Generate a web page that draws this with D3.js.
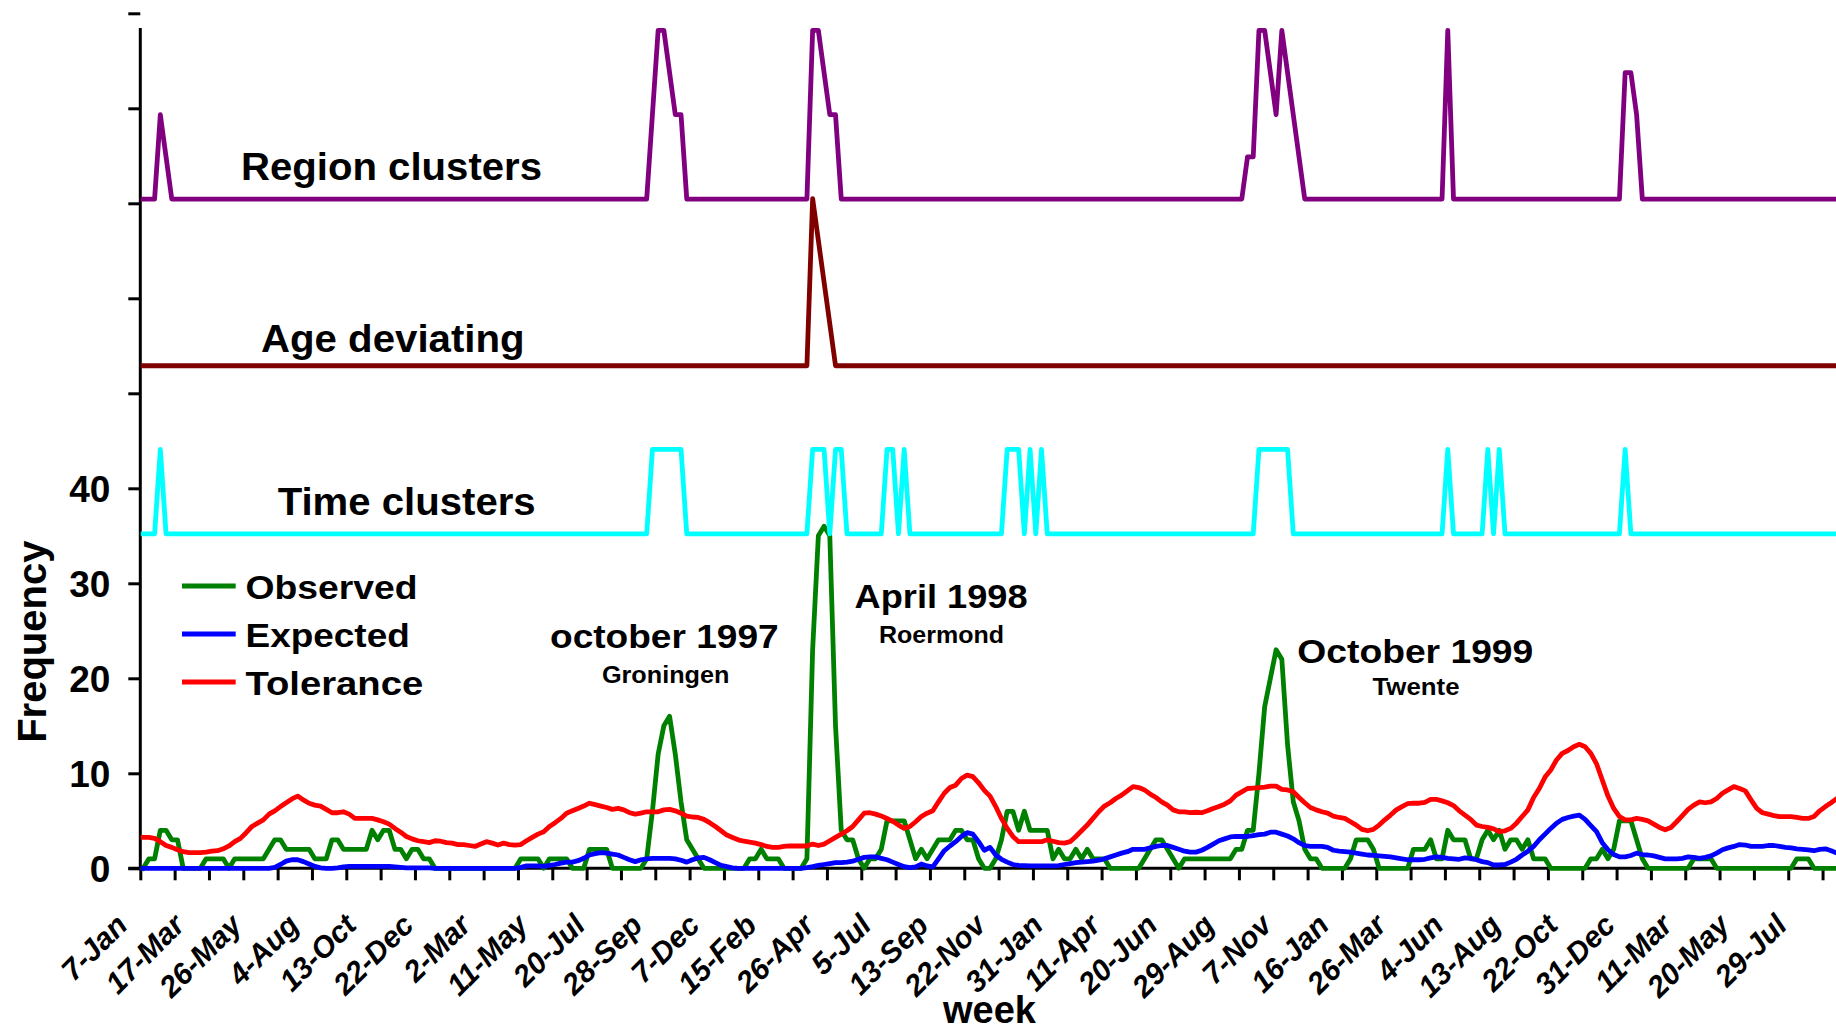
<!DOCTYPE html>
<html><head><meta charset="utf-8">
<script src="https://cdn.jsdelivr.net/npm/d3@7"></script>
<style>
html,body{margin:0;padding:0;background:#fff;overflow:hidden}
svg{display:block}
text{font-family:"Liberation Sans",Arial,Helvetica,sans-serif;font-weight:bold;fill:#000}
</style></head><body>
<svg id="chart" width="1836" height="1032"></svg>
<script>
// ---------------- DATA ----------------
// weekly categories starting 7-Jan-1996; a label every 10 weeks
const weekLabels = ["7-Jan","17-Mar","26-May","4-Aug","13-Oct","22-Dec","2-Mar","11-May","20-Jul","28-Sep",
  "7-Dec","15-Feb","26-Apr","5-Jul","13-Sep","22-Nov","31-Jan","11-Apr","20-Jun","29-Aug",
  "7-Nov","16-Jan","26-Mar","4-Jun","13-Aug","22-Oct","31-Dec","11-Mar","20-May","29-Jul"];

const observed = [
  0,1,1,4,4,3,3,0,0,0,  0,1,1,1,1,0,1,1,1,1,  1,1,2,3,3,2,2,2,2,2,  1,1,1,3,3,2,2,2,2,2,
  4,3,4,4,2,2,1,2,2,1,  1,0,0,0,0,0,0,0,0,0,  0,0,0,0,0,0,1,1,1,1,  0,1,1,1,1,0,0,0,2,2,
  2,2,0,0,0,0,0,0,1,6,  12,15,16,12,7,3,2,1,0,0,  0,0,0,0,0,0,1,1,2,1,  1,1,0,0,0,0,1,23,35,36,
  35,15,4,3,3,1,0,1,1,2,  5,5,5,5,3,1,2,1,2,3,  3,3,4,4,3,3,1,0,0,1,  3,6,6,4,6,4,4,4,4,1,
  2,1,1,2,1,2,1,1,1,0,  0,0,0,0,0,1,2,3,3,2,  1,0,1,1,1,1,1,1,1,1,  1,2,2,4,4,10,17,20,23,22,
  13,7,5,2,1,1,0,0,0,0,  0,1,3,3,3,2,0,0,0,0,  0,0,2,2,2,3,1,1,4,3,  3,3,1,1,3,4,3,4,2,3,
  3,2,3,1,1,1,0,0,0,0,  0,0,0,1,1,2,1,2,5,5,  5,3,1,0,0,0,0,0,0,0,  0,1,1,1,1,0,0,0,0,0,
  0,0,0,0,0,0,0,0,0,1,  1,1,0,0,0,0,0];

const expected = [
  0,0,0,0,0,0,0,0,0,0,  0,0,0,0,0,0,0,0,0,0,  0,0,0,0.1,0.4,0.75,0.9,0.9,0.7,0.45,
  0.2,0.05,0,0,0.05,0.15,0.2,0.2,0.2,0.2,  0.2,0.2,0.2,0.2,0.15,0.1,0.05,0.05,0.05,0.05,
  0.05,0,0,0,0,0,0,0,0,0,  0,0,0,0,0,0,0.1,0.25,0.25,0.25,  0.2,0.3,0.4,0.55,0.65,0.65,0.8,1.05,1.4,1.55,
  1.65,1.6,1.5,1.4,1.15,0.9,0.7,0.9,1.0,1.05,  1.05,1.05,1.05,1.0,0.85,0.65,0.9,1.1,1.15,0.9,
  0.6,0.3,0.17,0.05,0,0,0,0,0,0,  0,0,0,0,0,0,0.07,0.17,0.3,0.4,  0.5,0.6,0.6,0.65,0.75,0.95,1.15,1.2,1.2,1.05,
  0.9,0.65,0.4,0.17,0.07,0.15,0.45,0.25,0.15,1.0,  1.85,2.35,2.8,3.35,3.75,3.6,2.8,1.9,2.2,1.4,
  0.95,0.65,0.4,0.3,0.28,0.25,0.25,0.25,0.25,0.25,  0.28,0.4,0.5,0.6,0.65,0.7,0.75,0.85,1.0,1.2,
  1.4,1.6,1.75,2.0,2.0,2.0,2.15,2.3,2.4,2.4,  2.2,2.0,1.8,1.7,1.7,1.9,2.2,2.55,2.9,3.1,
  3.3,3.35,3.35,3.35,3.45,3.55,3.6,3.8,3.8,3.6,  3.4,3.1,2.7,2.4,2.3,2.3,2.3,2.2,1.9,1.8,
  1.75,1.7,1.6,1.5,1.4,1.35,1.3,1.25,1.2,1.1,  1.0,0.9,0.9,0.9,0.95,1.1,1.2,1.15,1.05,1.0,
  0.95,1.1,1.05,0.9,0.7,0.6,0.35,0.35,0.4,0.65,  0.95,1.4,1.8,2.3,3.0,3.6,4.2,4.75,5.15,5.35,
  5.5,5.6,5.15,4.5,3.85,2.7,1.95,1.45,1.2,1.2,  1.35,1.6,1.45,1.4,1.3,1.15,1.0,1.0,1.0,1.05,
  1.2,1.15,1.05,1.15,1.3,1.6,1.95,2.15,2.3,2.5,  2.45,2.3,2.3,2.3,2.4,2.4,2.3,2.2,2.15,2.05,
  2.0,1.95,1.85,2.0,2.05,1.85,1.6];

const tolerance = [
  3.25,3.25,3.15,2.8,2.4,2.2,1.95,1.75,1.65,1.65,  1.65,1.7,1.8,1.85,2.05,2.35,2.8,3.15,3.75,4.4,
  4.75,5.1,5.7,6.05,6.5,6.9,7.3,7.6,7.2,6.85,  6.65,6.55,6.2,5.85,5.85,5.95,5.7,5.25,5.25,5.25,
  5.25,5.1,4.9,4.65,4.2,3.8,3.35,3.1,2.9,2.8,  2.7,2.9,2.85,2.7,2.65,2.5,2.5,2.4,2.3,2.55,
  2.8,2.65,2.45,2.65,2.5,2.45,2.5,2.9,3.25,3.6,  3.85,4.4,4.8,5.25,5.8,6.05,6.3,6.55,6.85,6.7,
  6.55,6.4,6.2,6.3,6.15,5.85,5.7,5.8,5.95,5.95,  5.95,6.15,6.2,6.05,5.8,5.5,5.4,5.35,5.15,4.8,
  4.4,3.95,3.5,3.25,3.0,2.85,2.75,2.65,2.5,2.3,  2.2,2.2,2.3,2.35,2.35,2.35,2.35,2.55,2.4,2.55,
  2.9,3.25,3.6,3.95,4.4,5.1,5.8,5.85,5.7,5.5,  5.25,4.95,4.55,4.2,4.4,4.9,5.45,5.8,6.05,7.0,
  7.9,8.5,8.75,9.45,9.8,9.65,9.0,8.2,7.6,6.5,  5.25,4.2,3.35,2.8,2.8,2.8,2.8,2.8,3.0,2.85,
  2.7,2.65,2.8,3.35,3.95,4.55,5.25,5.95,6.55,6.9,  7.35,7.7,8.15,8.6,8.5,8.25,7.8,7.45,7.0,6.65,
  6.15,5.95,5.95,5.85,5.9,5.85,6.05,6.3,6.5,6.75,  7.1,7.7,8.05,8.4,8.45,8.5,8.55,8.65,8.65,8.3,
  8.25,8.05,7.45,6.9,6.4,6.15,5.95,5.8,5.5,5.35,  5.25,4.9,4.55,4.1,3.95,4.1,4.55,5.1,5.6,6.15,
  6.5,6.8,6.85,6.85,6.95,7.25,7.25,7.1,6.9,6.6,  6.05,5.6,5.15,4.55,4.4,4.3,4.15,3.85,3.95,4.2,
  4.75,5.45,6.15,7.45,8.4,9.6,10.35,11.4,12.1,12.4,  12.8,13.05,12.8,12.1,11.0,9.3,7.6,6.3,5.45,5.1,
  5.1,5.25,5.15,5.0,4.65,4.3,4.05,4.3,4.9,5.55,  6.2,6.65,7.0,6.9,7.0,7.35,7.9,8.25,8.6,8.4,
  8.15,7.2,6.3,5.85,5.7,5.55,5.45,5.45,5.45,5.35,  5.25,5.25,5.45,6.05,6.5,6.9,7.35];

// weeks flagged by the time-cluster detector (flag = 1)
const timeClusterWeeks = [3,89,90,91,92,93,94,117,118,119,121,122,130,131,133,
  151,152,153,155,157,195,196,197,198,199,200,228,235,237,259];
// [week, number of region clusters]
const regionClusters = [[3,2],[4,1],[89,2],[90,4],[91,4],[92,3],[93,2],[94,2],
  [117,4],[118,4],[119,3],[120,2],[121,2],[193,1],[194,1],[195,4],[196,4],[197,3],[198,2],
  [199,4],[200,3],[201,2],[202,1],[228,4],[259,3],[260,3],[261,2]];
// [week, age-deviation level]
const ageDeviating = [[117,4],[118,3],[119,2],[120,1]];

const yTicks = [0,10,20,30,40,50,60,70,80,90];
const yLabelTicks = [0,10,20,30,40];

const seriesNames = ["Observed","Expected","Tolerance"];
const seriesColors = ["#008000","#0000FF","#FF0000"];

// ---------------- CHART ----------------
const svg = d3.select("#chart");
const nWeeks = observed.length;
const plotLeft = 140.3, weekW = 5.722;

const xb = d3.scaleLinear().domain([0, nWeeks]).range([plotLeft, plotLeft + nWeeks * weekW]);
const xc = i => xb(i + 0.5);
const y = d3.scaleLinear().domain([0, 90]).range([868.3, 13.3]);

const regionLane = d3.scaleLinear().domain([0, 4]).range([70.45, 88.2]);
const ageLane = d3.scaleLinear().domain([0, 4]).range([52.9, 70.5]);
const timeLane = d3.scaleLinear().domain([0, 1]).range([35.2, 44.1]);

function fromPairs(pairs) {
  const m = new Map(pairs);
  return d3.range(nWeeks).map(i => m.get(i) || 0);
}
const timeSeries = d3.range(nWeeks).map(i => timeClusterWeeks.includes(i) ? 1 : 0);
const regionSeries = fromPairs(regionClusters);
const ageSeries = fromPairs(ageDeviating);

// axes
const yAxis = d3.axisLeft(y).tickValues(yTicks).tickSize(12).tickPadding(18)
  .tickFormat(d => yLabelTicks.includes(d) ? d : "");
const gy = svg.append("g").attr("transform", `translate(${plotLeft},0)`).call(yAxis);
gy.select(".domain").attr("d", `M0,${y(88.45)}V${y(0)}`);
gy.selectAll("path,line").attr("stroke", "#000").attr("stroke-width", 3);
gy.selectAll("text").attr("font-size", 37).attr("dy", "0.36em")
  .attr("font-family", '"Liberation Sans",Arial,sans-serif').attr("font-weight", "bold");

const xAxis = d3.axisBottom(xb).tickValues(d3.range(0, nWeeks, 6)).tickSize(12).tickSizeOuter(0).tickFormat("");
const gx = svg.append("g").attr("transform", `translate(0,${y(0)})`).call(xAxis);
gx.select(".domain").attr("d", `M${xb(0) - 12},0H${xb(nWeeks)}`);
gx.selectAll("path,line").attr("stroke", "#000").attr("stroke-width", 3);

svg.append("g").selectAll("text").data(weekLabels).join("text")
  .attr("transform", (d, k) => `translate(${xc(k * 10) - 14},927) rotate(-45)`)
  .attr("text-anchor", "end").attr("font-size", 30).attr("font-style", "italic")
  .text(d => d);

// lines
const line = (accY) => d3.line().x((d, i) => xc(i)).y((d) => y(accY(d)));
const plotLines = [
  {data: observed, f: d => d, color: seriesColors[0]},
  {data: expected, f: d => d, color: seriesColors[1]},
  {data: tolerance, f: d => d, color: seriesColors[2]},
  {data: timeSeries, f: d => timeLane(d), color: "#00FFFF"},
  {data: ageSeries, f: d => ageLane(d), color: "#800000"},
  {data: regionSeries, f: d => regionLane(d), color: "#800080"}
];
svg.append("g").selectAll("path").data(plotLines).join("path")
  .attr("d", s => line(s.f)(s.data))
  .attr("fill", "none").attr("stroke", s => s.color).attr("stroke-width", 4.8)
  .attr("stroke-linejoin", "round").attr("stroke-linecap", "square");

// lane titles
const laneTitles = [
  {t: "Region clusters", x: 391.5, y: 180, w: 301},
  {t: "Age deviating", x: 392.8, y: 351.7, w: 263.6},
  {t: "Time clusters", x: 406.7, y: 515, w: 258}
];
svg.append("g").selectAll("text").data(laneTitles).join("text")
  .attr("x", d => d.x).attr("y", d => d.y).attr("text-anchor", "middle")
  .attr("font-size", 38).attr("textLength", d => d.w).attr("lengthAdjust", "spacingAndGlyphs")
  .text(d => d.t);

// legend
const legendWidths = [172, 164.3, 177.7];
const lg = svg.append("g").selectAll("g").data(seriesNames).join("g")
  .attr("transform", (d, i) => `translate(182,${599 + i * 48})`);
lg.append("line").attr("x1", 0).attr("x2", 53.7).attr("y1", -13).attr("y2", -13)
  .attr("stroke", (d, i) => seriesColors[i]).attr("stroke-width", 5);
lg.append("text").attr("x", 63.5).attr("y", 0).attr("font-size", 34)
  .attr("textLength", (d, i) => legendWidths[i]).attr("lengthAdjust", "spacingAndGlyphs")
  .text(d => d);

// outbreak annotations
const notes = [
  {t: "october 1997", x: 664.3, y: 648.3, s: 33, w: 228.6},
  {t: "Groningen", x: 665.7, y: 683.3, s: 23.5, w: 127.5},
  {t: "April 1998", x: 941.1, y: 608.3, s: 33.5, w: 173},
  {t: "Roermond", x: 941.5, y: 643.3, s: 24.5, w: 125},
  {t: "October 1999", x: 1415.3, y: 663.3, s: 34, w: 236},
  {t: "Twente", x: 1416, y: 695, s: 23.5, w: 87}
];
svg.append("g").selectAll("text").data(notes).join("text")
  .attr("x", d => d.x).attr("y", d => d.y).attr("text-anchor", "middle")
  .attr("font-size", d => d.s).attr("textLength", d => d.w).attr("lengthAdjust", "spacingAndGlyphs")
  .text(d => d.t);

// axis titles
svg.append("text").attr("transform", "translate(46,641.7) rotate(-90)")
  .attr("text-anchor", "middle").attr("font-size", 40).text("Frequency");
svg.append("text").attr("x", 989.5).attr("y", 1023)
  .attr("text-anchor", "middle").attr("font-size", 38).text("week");
</script>
</body></html>
